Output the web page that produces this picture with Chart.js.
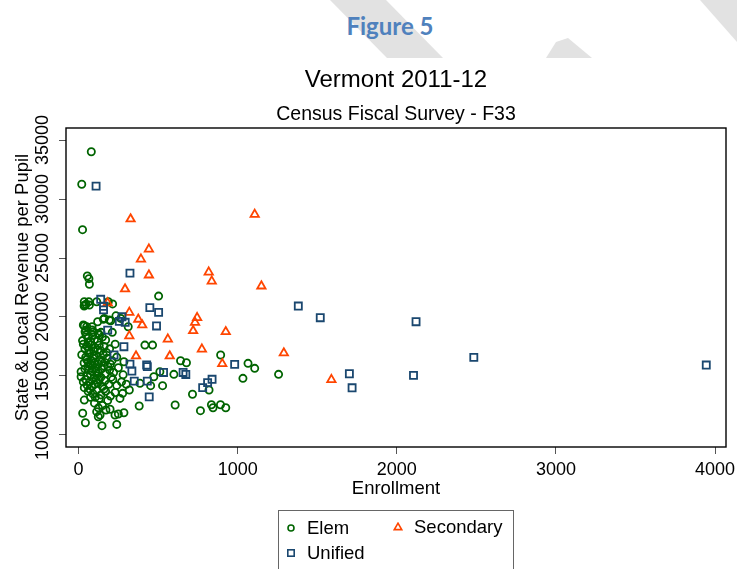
<!DOCTYPE html>
<html>
<head>
<meta charset="utf-8">
<script src="https://cdn.jsdelivr.net/npm/chart.js@4/dist/chart.umd.min.js"></script>
<style>
  html, body { margin: 0; padding: 0; background: #fff; }
  #wrap { position: relative; width: 737px; height: 569px; overflow: hidden; background: #fff; }
  #mark { position: absolute; left: 0; top: 0; }
  #fig { position: absolute; left: 0; top: 11px; width: 780px; text-align: center;
         font: bold 24px "Lato", "Open Sans", sans-serif; color: #4F81BD; }
  #chartBox { position: absolute; left: 0; top: 0; width: 737px; height: 569px; }
  #legend { position: absolute; left: 278px; top: 510px; width: 236px; height: 80px;
            border: 1px solid #666; box-sizing: border-box; }
  .lg { position: absolute; font: 18.5px "Liberation Sans", Arial, sans-serif; color: #000; line-height: 20px; }
  .mk { position: absolute; }
</style>
</head>
<body>
<div id="wrap">
  <svg id="mark" width="737" height="58">
    <g fill="#e2e2e2">
      <polygon points="330,0 386,0 443,58 387,58"/>
      <polygon points="546,58 556,42 568,38 592,58"/>
      <polygon points="700,0 737,0 737,42"/>
    </g>
  </svg>
  <div id="fig">Figure 5</div>
  <div id="chartBox"><canvas id="c" width="737" height="569"></canvas></div>
  <div id="legend"></div>
  <svg class="mk" style="left:286px;top:523px" width="10" height="10"><circle cx="5" cy="5" r="3" fill="none" stroke="#006400" stroke-width="1.6"/></svg>
  <div class="lg" style="left:307px;top:518px">Elem</div>
  <svg class="mk" style="left:393px;top:522px" width="10" height="10"><polygon points="5,1.2 8.7,7.6 1.3,7.6" fill="none" stroke="#FF4500" stroke-width="1.6"/></svg>
  <div class="lg" style="left:414px;top:517px">Secondary</div>
  <svg class="mk" style="left:286px;top:548px" width="10" height="10"><rect x="1.8" y="1.8" width="6.4" height="6.4" fill="none" stroke="#1A476F" stroke-width="1.6"/></svg>
  <div class="lg" style="left:307px;top:543px">Unified</div>
</div>
<script>
// Elementary districts: enrollment and state & local revenue per pupil
const elemEnroll = [80,20,25,55,65,68,503,36,47,64,68,39,114,187,214,35,
  36,47,85,120,162,193,235,265,202,156,312,30,51,93,124,41,
  47,89,130,141,212,60,100,150,75,120,170,
  30,55,80,105,130,160,195,230,65,95,140,175,417,465,
  20,45,70,90,110,135,155,180,210,240,285,60,100,125,165,200,641,678,893,1065,1107,
  16,40,60,85,105,125,145,170,195,220,250,280,75,115,160,511,599,1257,
  16,45,70,95,120,140,165,190,215,240,270,300,55,85,110,473,386,453,528,1033,
  36,60,90,115,140,170,200,230,277,319,75,130,260,820,716,
  36,183,172,198,381,100,150,607,766,835,845,892,925,
  26,43,147,240,114,135,124,229,250,285,
  25,40,50,65,80,90,100,110,130,150,35,55,70,95,120,145,185,205,30,60,85,105,125,160,75];
const elemRevenue = [34000,31250,27400,23480,23250,22780,21770,21290,21070,21290,21010,21010,21290,21290,21110,20930,
  19260,18890,19170,19600,19880,19740,20100,19880,19680,19800,19170,19320,19170,18750,18610,18750,
  18470,18470,18470,18700,18700,18200,18100,18300,17900,17950,18050,
  17700,17500,17650,17400,17600,17500,17300,17700,17200,17100,17150,17000,17620,17620,
  16800,16600,16900,16500,16750,16400,16800,16500,16300,16600,16210,16200,16100,16000,16150,16000,16290,16120,16780,16070,15650,
  15360,15600,15800,15400,15700,15300,15600,15200,15500,15300,15700,15100,15100,15000,15850,15360,15140,15140,
  14940,14700,14500,14800,14400,14900,14600,14300,14700,14200,14500,14300,14200,14100,14650,14940,14380,14180,14180,14800,
  14010,13700,13500,13800,13400,13700,13300,13600,13530,13810,13200,13100,13100,13810,13450,
  12960,12920,12120,12180,12460,12700,12500,12540,12060,12560,12310,12560,12310,
  11840,11040,10790,10900,11980,11690,11550,11690,11780,11890,
  18000,17300,16400,15500,16300,15900,14300,15400,14700,14100,16100,15000,13900,16700,17200,16200,15800,14900,14500,17800,18900,13200,12300,13900,16000];

// Secondary (union high school) districts
const secEnroll = [327,1107,442,392,442,818,837,292,1149,183,319,375,400,745,732,720,925,319,561,775,573,361,903,1290,1589];
const secRevenue = [28300,28690,25750,24900,23550,23800,23040,22370,22620,21190,20390,19800,19320,19940,19540,18830,18750,18400,18120,17270,16690,16690,16040,16950,14690];

// Unified districts
const uniEnroll = [110,323,139,157,157,448,503,490,256,273,293,183,285,223,323,335,428,432,534,657,674,350,432,839,811,780,444,981,1381,1519,2121,2484,1702,1719,2105,3945];
const uniRevenue = [31090,23720,21500,20910,20600,20790,20390,19240,19630,20020,19550,18890,17480,16780,16010,15420,15930,15790,15300,15300,15130,14570,14570,14720,14440,14020,13230,15980,20930,19940,19600,16580,15190,14000,15050,15930];

// Axis tick values
const xTicks = [0, 1000, 2000, 3000, 4000];
const yTicks = [10000, 15000, 20000, 25000, 30000, 35000];

const pairs = (xs, ys) => xs.map((x, i) => ({ x: x, y: ys[i] }));

const GREEN = '#006400', ORANGE = '#FF4500', NAVY = '#1A476F';
const FONT = '"Liberation Sans", Arial, sans-serif';

// Plot-region outline drawn around the whole chart area
const frame = {
  id: 'frame',
  afterDraw(chart) {
    const a = chart.chartArea, ctx = chart.ctx;
    ctx.save();
    ctx.strokeStyle = '#000';
    ctx.lineWidth = 1.4;
    ctx.strokeRect(a.left, a.top, a.right - a.left, a.bottom - a.top);
    ctx.restore();
  }
};

new Chart(document.getElementById('c'), {
  type: 'scatter',
  data: {
    datasets: [
      { label: 'Elem', data: pairs(elemEnroll, elemRevenue), pointStyle: 'circle', pointRadius: 3.6,
        borderColor: GREEN, backgroundColor: 'rgba(0,0,0,0)', borderWidth: 1.8, order: 3 },
      { label: 'Secondary', data: pairs(secEnroll, secRevenue), pointStyle: 'triangle', pointRadius: 4.8,
        borderColor: ORANGE, backgroundColor: 'rgba(0,0,0,0)', borderWidth: 1.8, order: 2 },
      { label: 'Unified', data: pairs(uniEnroll, uniRevenue), pointStyle: 'rect', pointRadius: 5.0,
        borderColor: NAVY, backgroundColor: 'rgba(0,0,0,0)', borderWidth: 1.8, order: 1 }
    ]
  },
  options: {
    responsive: false,
    animation: false,
    events: [],
    layout: { padding: { left: 0, right: 11, top: 0, bottom: 69 } },
    plugins: {
      legend: { display: false },
      tooltip: { enabled: false },
      title: { display: true, text: 'Vermont 2011-12', color: '#000', fullSize: false,
        font: { family: FONT, size: 24, weight: 'normal' }, padding: { top: 65.6, bottom: 0 } },
      subtitle: { display: true, text: 'Census Fiscal Survey - F33', color: '#000', fullSize: false,
        font: { family: FONT, size: 19.5, weight: 'normal' }, padding: { top: 8.9, bottom: 1.3 } }
    },
    scales: {
      x: {
        type: 'linear', min: -79, max: 4069,
        afterBuildTicks: s => { s.ticks = xTicks.map(v => ({ value: v })); },
        afterFit: s => { s.height = 53; s.paddingLeft = 0; s.paddingRight = 0; },
        grid: { display: true, drawOnChartArea: false, drawTicks: true, tickLength: 7, color: '#555', lineWidth: 1 },
        border: { display: false },
        ticks: { color: '#000', font: { family: FONT, size: 18 }, padding: 5, autoSkip: false, maxRotation: 0,
          callback: v => String(v) },
        title: { display: true, text: 'Enrollment', color: '#000', font: { family: FONT, size: 18.5 }, padding: { top: 0, bottom: 0 } }
      },
      y: {
        type: 'linear', min: 8983, max: 36017,
        afterBuildTicks: s => { s.ticks = yTicks.map(v => ({ value: v })); },
        afterFit: s => { s.width = 66; s.paddingTop = 0; s.paddingBottom = 0; },
        grid: { display: true, drawOnChartArea: false, drawTicks: true, tickLength: 7, color: '#555', lineWidth: 1 },
        border: { display: false },
        ticks: { color: '#000', font: { family: FONT, size: 18 }, padding: -9, autoSkip: false,
          minRotation: 90, maxRotation: 90, crossAlign: 'center', callback: v => String(v) },
        title: { display: true, text: 'State & Local Revenue per Pupil', color: '#000', font: { family: FONT, size: 18.5 }, padding: { top: 12, bottom: 0 } }
      }
    }
  },
  plugins: [frame]
});
</script>
</body>
</html>
